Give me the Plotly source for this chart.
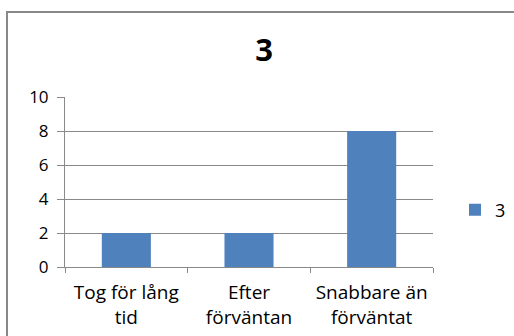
import plotly.graph_objects as go

categories = ["Tog för lång<br>tid", "Efter<br>förväntan", "Snabbare än<br>förväntat"]
values = [2, 2, 8]
series_name = "3"
y_ticks = [0, 2, 4, 6, 8, 10]

W, H = 514, 336
ml, mr, mt, mb = 65, 81, 97, 69
pw, ph = W - ml - mr, H - mt - mb

def px_to_paper_x(px):
    return (px - ml) / pw

def px_to_paper_y(py):
    return (H - mb - py) / ph

fig = go.Figure()
fig.add_trace(go.Bar(
    x=categories, y=values, name=series_name,
    marker=dict(color="#4F81BD", line=dict(width=0)),
    width=0.4,
))

grey = "#898989"
font_family = "Open Sans, Liberation Sans, sans-serif"

fig.update_layout(
    width=W, height=H,
    margin=dict(l=ml, r=mr, t=mt, b=mb, pad=0, autoexpand=False),
    paper_bgcolor="white", plot_bgcolor="white",
    font=dict(family=font_family, size=15, color="#000000"),
    title=dict(text="<b>3</b>", x=264 / W, xanchor="center",
               y=1 - 50 / H, yanchor="middle",
               font=dict(size=31, family=font_family, color="#000000")),
    showlegend=True,
    legend=dict(xref="container", yref="container",
                x=455 / W, y=1 - 210 / H, xanchor="left", yanchor="middle",
                font=dict(size=18), itemwidth=30, bgcolor="rgba(0,0,0,0)"),
    xaxis=dict(
        showline=True, linecolor=grey, linewidth=1,
        ticks="outside", ticklen=5, tickcolor=grey,
        tickson="boundaries", showgrid=False,
        tickfont=dict(size=19), ticklabelstandoff=8,
    ),
    yaxis=dict(
        range=[0, 10], tickvals=y_ticks,
        showline=True, linecolor=grey, linewidth=1,
        ticks="outside", ticklen=7, tickcolor=grey,
        showgrid=True, gridcolor=grey, gridwidth=1,
        zeroline=False, tickfont=dict(size=17), ticklabelstandoff=5,
    ),
    shapes=[dict(
        type="rect", xref="paper", yref="paper",
        x0=px_to_paper_x(7), x1=px_to_paper_x(W + 20),
        y0=px_to_paper_y(H + 20), y1=px_to_paper_y(12),
        line=dict(color=grey, width=2), fillcolor="rgba(0,0,0,0)", layer="below",
    )],
)

fig.write_html("out.html")
